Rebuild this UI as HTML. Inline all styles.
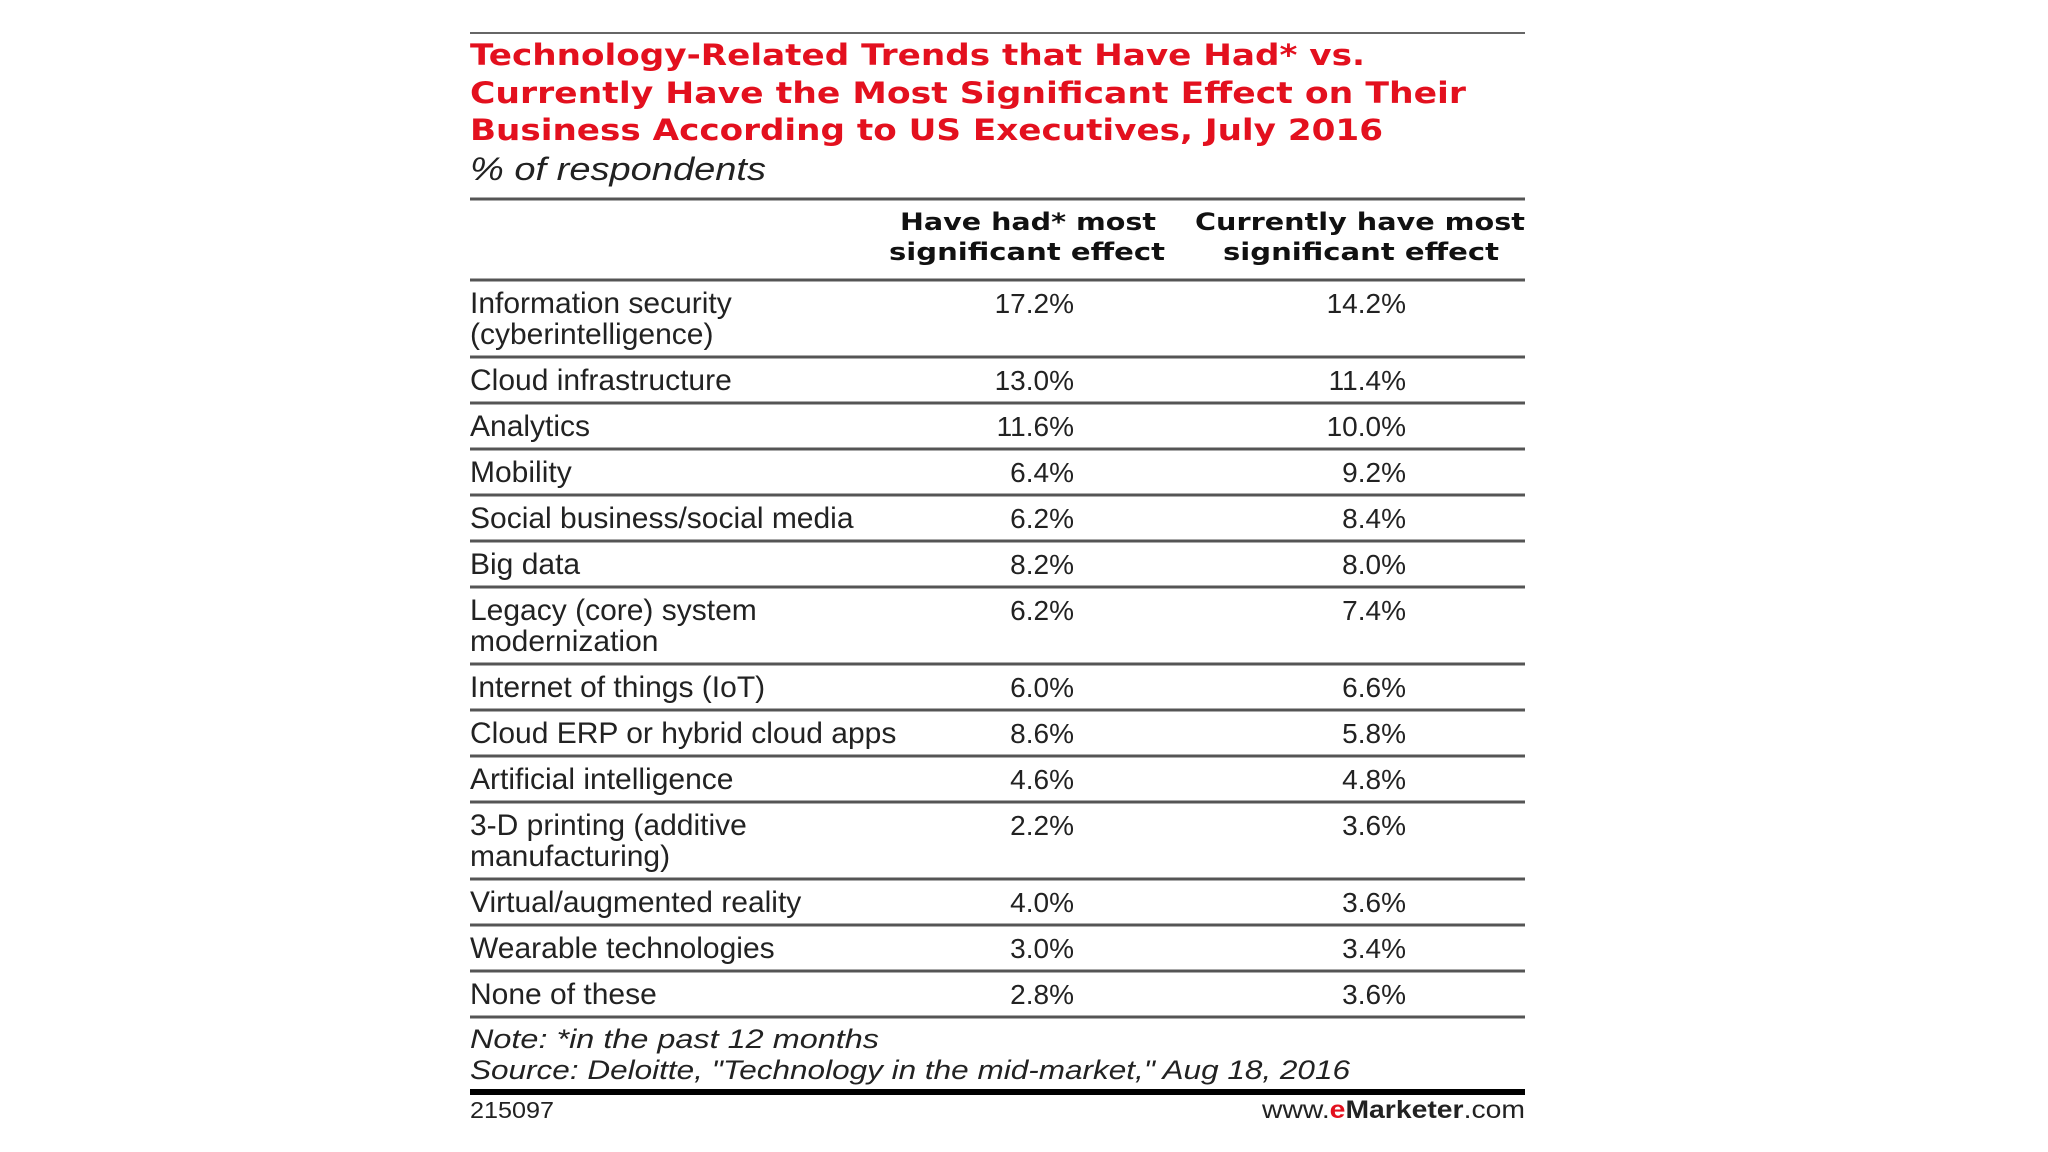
<!DOCTYPE html>
<html><head><meta charset="utf-8"><style>
html,body{margin:0;padding:0;background:#fff;}
svg{display:block;}
text{font-family:"Liberation Sans",sans-serif;fill:#222;}
.t{font-family:"DejaVu Sans","Liberation Sans",sans-serif;font-weight:bold;fill:#e3101e;font-size:29px;}
.h{font-family:"DejaVu Sans","Liberation Sans",sans-serif;font-weight:bold;font-size:24px;fill:#111;}
.lab{font-size:30px;}
.val{font-size:28px;text-anchor:end;}
.it{font-style:italic;font-size:27px;}
</style></head><body>
<svg id="chart" width="2048" height="1152" viewBox="0 0 2048 1152" xmlns="http://www.w3.org/2000/svg">
<line x1="470" y1="33" x2="1525" y2="33" stroke="#666" stroke-width="2"/>
<g>
<text class="t" x="470" y="65" textLength="895" lengthAdjust="spacingAndGlyphs">Technology-Related Trends that Have Had* vs.</text>
<text class="t" x="470" y="103" textLength="996" lengthAdjust="spacingAndGlyphs">Currently Have the Most Significant Effect on Their</text>
<text class="t" x="470" y="140" textLength="913" lengthAdjust="spacingAndGlyphs">Business According to US Executives, July 2016</text>
</g>
<text class="it" style="font-size:32px" x="470" y="180" textLength="296" lengthAdjust="spacingAndGlyphs">% of respondents</text>
<line x1="470" y1="199" x2="1525" y2="199" stroke="#555" stroke-width="3"/>
<g>
<text class="h" x="900" y="230" textLength="256" lengthAdjust="spacingAndGlyphs">Have had* most</text>
<text class="h" x="889" y="260" textLength="276" lengthAdjust="spacingAndGlyphs">significant effect</text>
</g>
<g>
<text class="h" x="1195" y="230" textLength="330" lengthAdjust="spacingAndGlyphs">Currently have most</text>
<text class="h" x="1223" y="260" textLength="276" lengthAdjust="spacingAndGlyphs">significant effect</text>
</g>
<line x1="470" y1="280" x2="1525" y2="280" stroke="#555" stroke-width="3"/>
<g id="rows"></g>
<text class="it" x="470" y="1048" textLength="409" lengthAdjust="spacingAndGlyphs">Note: *in the past 12 months</text>
<text class="it" x="470" y="1079" textLength="880" lengthAdjust="spacingAndGlyphs">Source: Deloitte, "Technology in the mid-market," Aug 18, 2016</text>
<line x1="470" y1="1092" x2="1525" y2="1092" stroke="#000" stroke-width="6"/>
<text x="470" y="1118" style="font-size:23px" textLength="84" lengthAdjust="spacingAndGlyphs">215097</text>
<text x="1262" y="1118" style="font-size:25px" textLength="263" lengthAdjust="spacingAndGlyphs">www.<tspan style="fill:#e3101e;font-weight:bold">e</tspan><tspan style="font-weight:bold">Marketer</tspan>.com</text>
</svg>
<script>
const categories = [
  ["Information security","(cyberintelligence)"],
  ["Cloud infrastructure"],
  ["Analytics"],
  ["Mobility"],
  ["Social business/social media"],
  ["Big data"],
  ["Legacy (core) system","modernization"],
  ["Internet of things (IoT)"],
  ["Cloud ERP or hybrid cloud apps"],
  ["Artificial intelligence"],
  ["3-D printing (additive","manufacturing)"],
  ["Virtual/augmented reality"],
  ["Wearable technologies"],
  ["None of these"]
];
const haveHad = [17.2,13.0,11.6,6.4,6.2,8.2,6.2,6.0,8.6,4.6,2.2,4.0,3.0,2.8];
const currently = [14.2,11.4,10.0,9.2,8.4,8.0,7.4,6.6,5.8,4.8,3.6,3.6,3.4,3.6];

const NS = "http://www.w3.org/2000/svg";
const g = document.getElementById('rows');
let y = 280;
function mk(tag, attrs){ const e=document.createElementNS(NS,tag); for(const k in attrs) e.setAttribute(k,attrs[k]); return e; }
categories.forEach((lines,i)=>{
  const h = lines.length>1 ? 77 : 46;
  const row = mk('g',{});
  
  
  const lab = mk('text',{class:'lab',x:470,y:y+33});
  
  
  lines.forEach((ln,j)=>{ const ts=mk('tspan',{x:470,y:y+33+j*31}); ts.textContent=ln; lab.appendChild(ts); });
  row.appendChild(lab);
  const v1 = mk('text',{class:'val',x:1074,y:y+33});
  
  
  v1.textContent = haveHad[i].toFixed(1)+'%';
  row.appendChild(v1);
  const v2 = mk('text',{class:'val',x:1406,y:y+33});
  
  
  v2.textContent = currently[i].toFixed(1)+'%';
  row.appendChild(v2);
  y += h;
  const ln = mk('line',{x1:470,y1:y,x2:1525,y2:y,stroke:'#555','stroke-width':3});
  
  
  row.appendChild(ln);
  g.appendChild(row);
});
</script>
</body></html>
